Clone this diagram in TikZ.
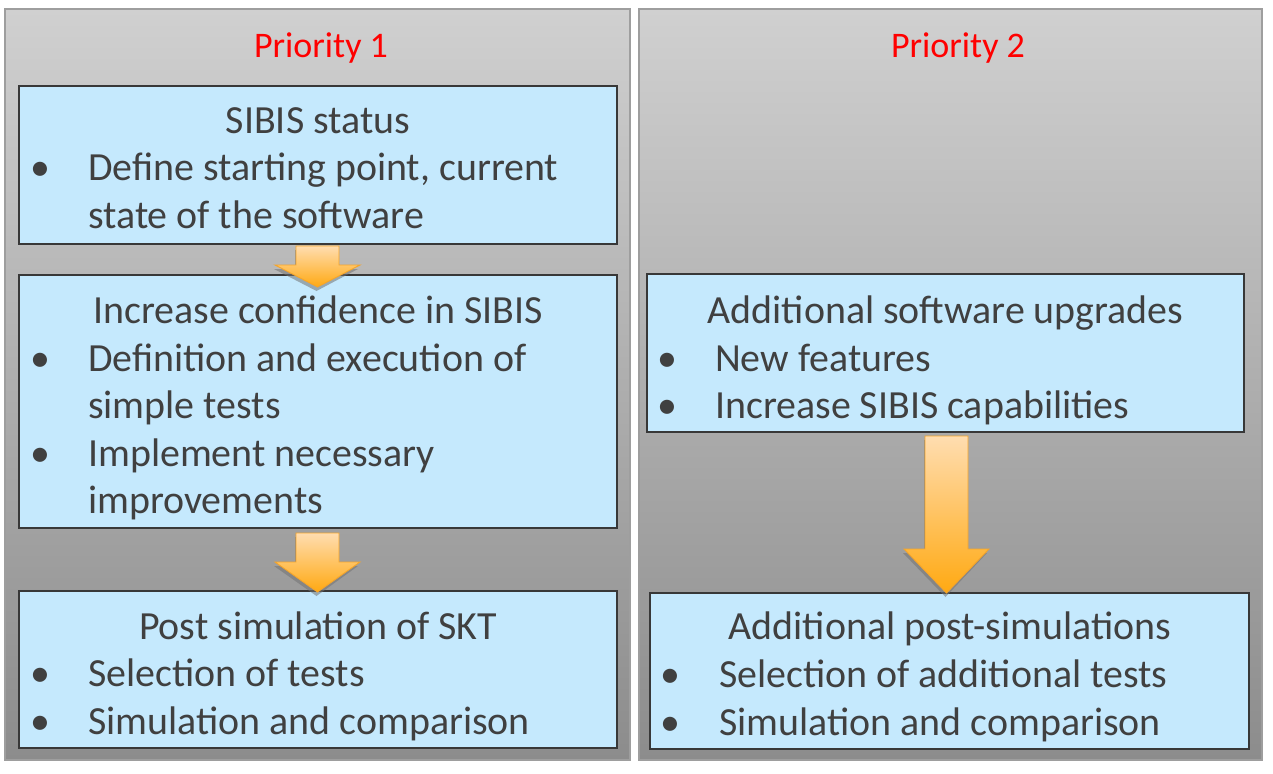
\documentclass[tikz,border=0pt]{standalone}
\usepackage{fontspec}
\setmainfont{Carlito}
\definecolor{boxblue}{HTML}{C5E9FD}
\definecolor{txt}{HTML}{404040}
\definecolor{paneltop}{HTML}{D0D0D0}
\definecolor{panelbot}{HTML}{8C8C8C}
\definecolor{arrtop}{HTML}{FFDDB0}
\definecolor{arrbot}{HTML}{FFA912}
\definecolor{arredge}{HTML}{F5A52A}
\definecolor{prio}{HTML}{FF0000}
\tikzset{
  panel/.style={draw=black!38, line width=1.6pt, top color=paneltop, bottom color=panelbot, anchor=north west, inner sep=0pt, outer sep=0pt},
  box/.style={draw=black!78, line width=1.2pt, fill=boxblue, anchor=north west, inner sep=0pt, outer sep=0pt},
  bodyfont/.style={font=\fontsize{39.9}{47.5}\selectfont, text=txt, inner sep=0pt},
  head/.style={bodyfont, anchor=base},
  item/.style={bodyfont, anchor=base west},
  bul/.style={bodyfont, anchor=base},
  prtitle/.style={font=\fontsize{36}{43}\selectfont, text=prio, anchor=base, inner sep=0pt},
  blockarrow/.style={top color=arrtop, bottom color=arrbot, draw=arredge, line width=0.9pt, line join=miter},
  arrshadow/.style={fill=black!55, opacity=0.55, draw=none}
}
\begin{document}
\begin{tikzpicture}[x=1pt,y=-1pt]
\useasboundingbox[fill=white] (0,0) rectangle (1273,773);
% panels
\node[panel, minimum width=625pt, minimum height=751pt] (P1) at (5,9) {};
\node[panel, minimum width=623pt, minimum height=751pt] (P2) at (639,9) {};
\node[prtitle] (T1) at (321,58) {Priority 1};
\node[prtitle] (T2) at (958,58) {Priority 2};
% boxes
\node[box, minimum width=598pt, minimum height=158pt] (A) at (19,86) {};
\node[box, minimum width=598pt, minimum height=253pt] (B) at (19,275) {};
\node[box, minimum width=598pt, minimum height=157pt] (C) at (19,591) {};
\node[box, minimum width=597pt, minimum height=158pt] (D) at (647,274) {};
\node[box, minimum width=599pt, minimum height=156pt] (E) at (650,593) {};
% arrows (shadow, then arrow)
\fill[arrshadow] (295,250) -- (338,250) -- (338,269) -- (358,269) -- (316.5,291) -- (274,269) -- (295,269) -- cycle;
\draw[blockarrow] (296,246) -- (339,246) -- (339,265) -- (360,265) -- (317.5,287) -- (275,265) -- (296,265) -- cycle;
\fill[arrshadow] (295,537) -- (338,537) -- (338,566) -- (358,566) -- (316.5,596) -- (274,566) -- (295,566) -- cycle;
\draw[blockarrow] (296,533) -- (339,533) -- (339,562) -- (360,562) -- (317.5,592) -- (275,562) -- (296,562) -- cycle;
\fill[arrshadow] (924,440) -- (967,440) -- (967,553) -- (987,553) -- (945.5,597) -- (903,553) -- (924,553) -- cycle;
\draw[blockarrow] (925,436) -- (968,436) -- (968,549) -- (989,549) -- (946.5,593) -- (904,549) -- (925,549) -- cycle;
% box A text
\node[head] (A0) at (318,133) {SIBIS status};
\node[bul] (A1b) at (40,180.5) {\char"2022};
\node[item] (A1) at (88,180.5) {Define starting point, current};
\node[item] (A2) at (88,228) {state of the software};
% box B text
\node[head] (B0) at (318,323.5) {Increase confidence in SIBIS};
\node[bul] (B1b) at (40,371) {\char"2022};
\node[item] (B1) at (88,371) {Definition and execution of};
\node[item] (B2) at (88,418.5) {simple tests};
\node[bul] (B3b) at (40,466) {\char"2022};
\node[item] (B3) at (88,466) {Implement necessary};
\node[item] (B4) at (88,513.5) {improvements};
% box C text
\node[head] (C0) at (318,639) {Post simulation of SKT};
\node[bul] (C1b) at (40,686.5) {\char"2022};
\node[item] (C1) at (88,686.5) {Selection of tests};
\node[bul] (C2b) at (40,734) {\char"2022};
\node[item] (C2) at (88,734) {Simulation and comparison};
% box D text
\node[head] (D0) at (945.5,323.5) {Additional software upgrades};
\node[bul] (D1b) at (667,371) {\char"2022};
\node[item] (D1) at (715,371) {New features};
\node[bul] (D2b) at (667,418.5) {\char"2022};
\node[item] (D2) at (715,418.5) {Increase SIBIS capabilities};
% box E text
\node[head] (E0) at (950,639.5) {Additional post-simulations};
\node[bul] (E1b) at (670,687.5) {\char"2022};
\node[item] (E1) at (719,687.5) {Selection of additional tests};
\node[bul] (E2b) at (670,735) {\char"2022};
\node[item] (E2) at (719,735) {Simulation and comparison};
\end{tikzpicture}
\end{document}
